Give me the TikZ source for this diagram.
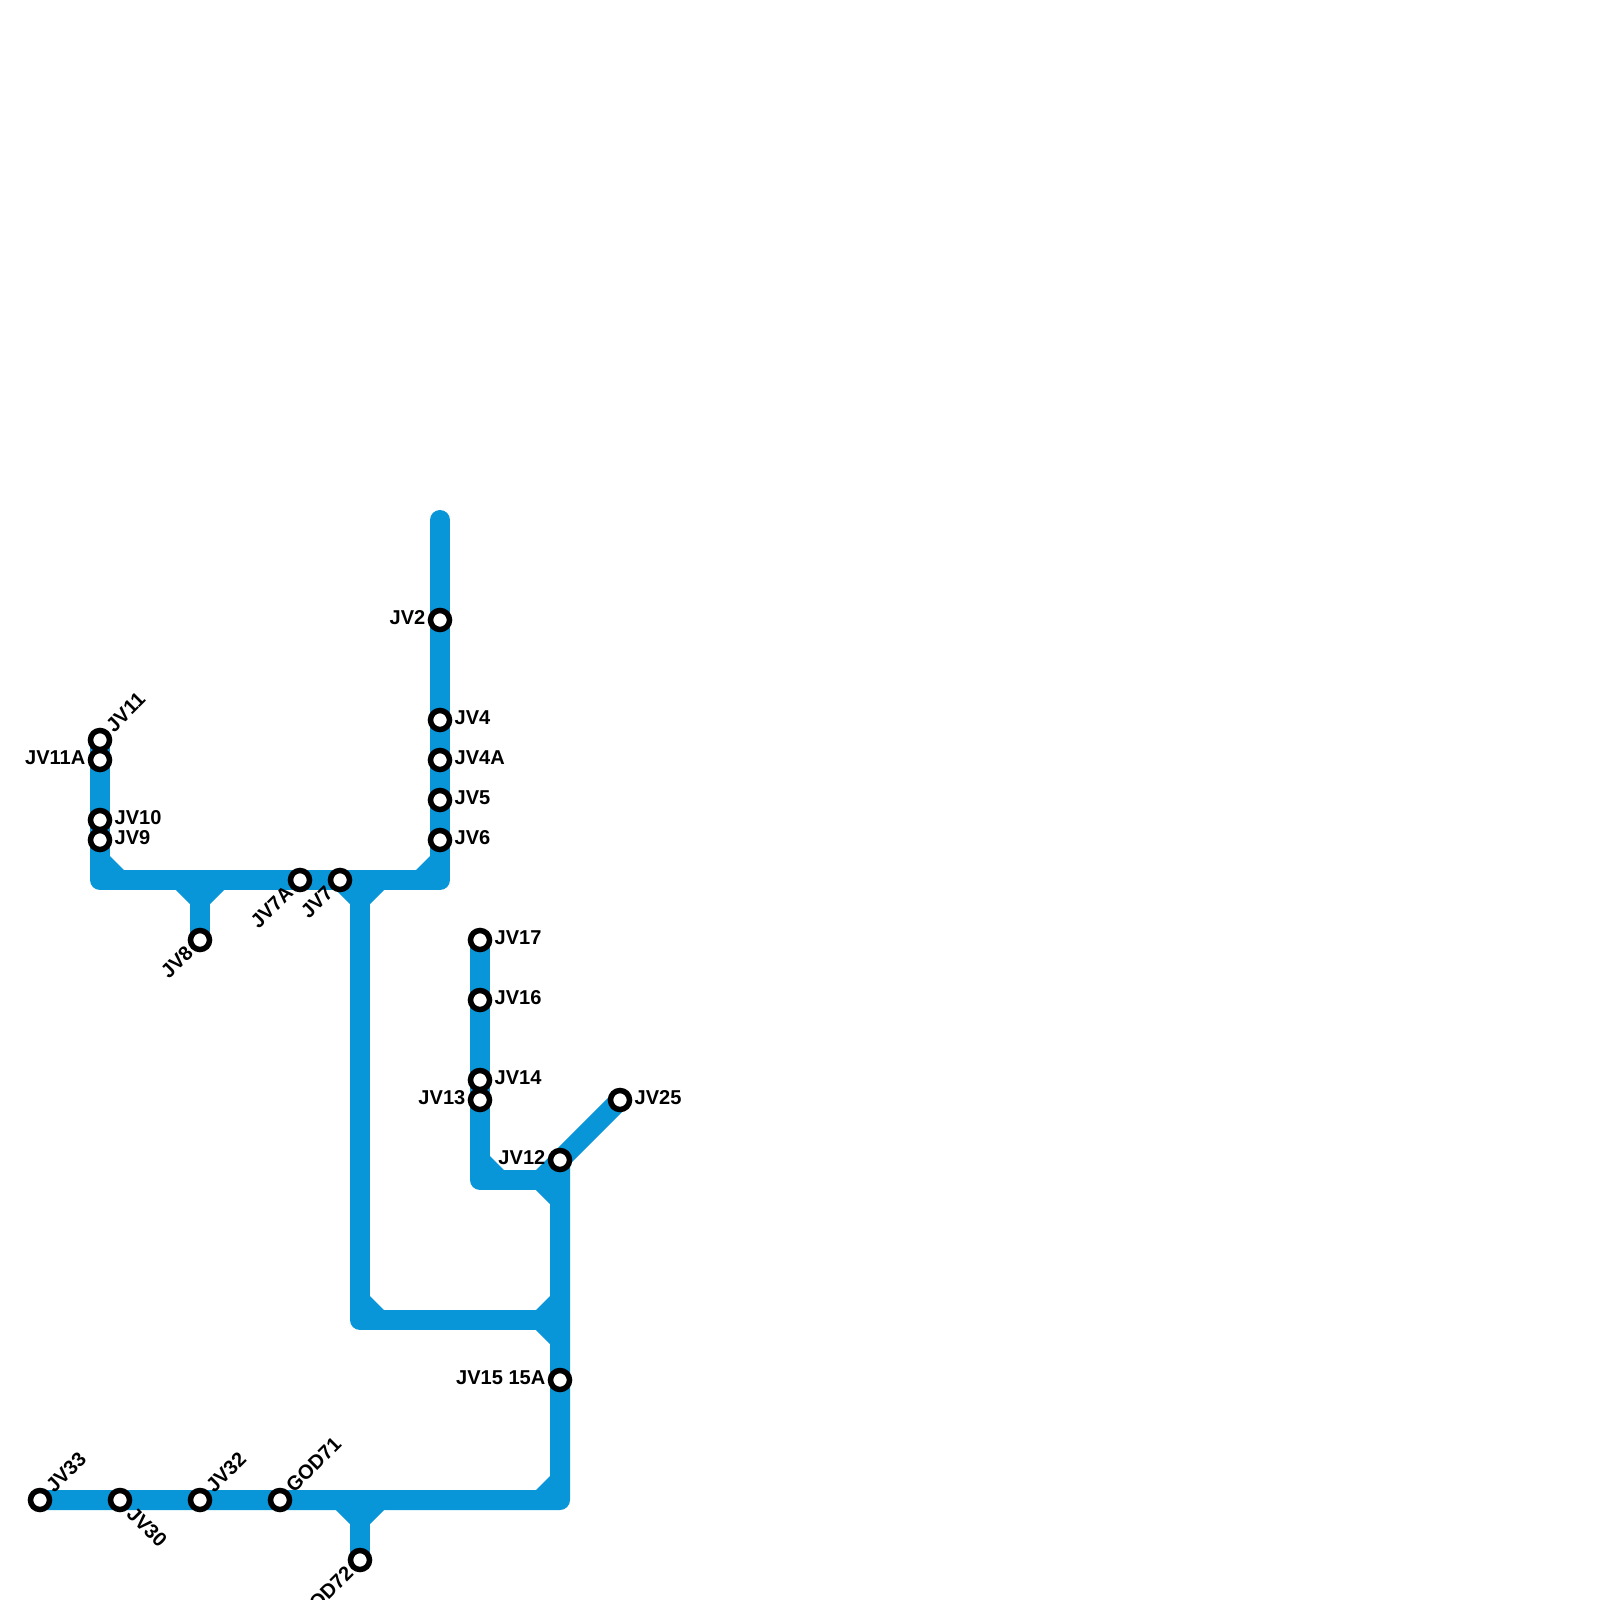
\documentclass[tikz,border=0pt]{standalone}
\usepackage{fontspec}
\setmainfont{Liberation Sans}
\definecolor{linecol}{HTML}{0896D9}
\tikzset{
    metro/.style={line width=0.2cm, draw=linecol, line cap=round, line join=round},
    station/.style={circle, draw=black, fill=white, line width=0.055cm, minimum size=0.19cm, inner sep=0pt},
    stationlbl/.style={font=\fontsize{5.7}{6}\selectfont\bfseries, inner sep=0pt, text=black},
    lblright/.style={stationlbl, anchor=west},
    lblleft/.style={stationlbl, anchor=east},
    lblne/.style={stationlbl, anchor=west, rotate=45},
    lblse/.style={stationlbl, anchor=west, rotate=-45},
    lblsw/.style={stationlbl, anchor=east, rotate=45},
}
% small triangle in the inner corner of a junction
\newcommand{\fillet}[4]{\fill[linecol] (#1,#2) -- ++(#3*14,0) -- ++(-#3*14,#4*14) -- cycle;}
\begin{document}
\begin{tikzpicture}[x=0.01cm,y=-0.01cm]
    \useasboundingbox (0,0) rectangle (1600,1600);

    % stops, no drawing yet
    \coordinate (top) at (440,520);
    \coordinate (cnrne) at (440,880);
    \coordinate (cnrnw) at (100,880);
    \coordinate (jctjv8) at (200,880);
    \coordinate (jctmid) at (360,880);
    \coordinate (cnrmid) at (360,1320);
    \coordinate (jctlow) at (560,1320);
    \coordinate (cnrjv13) at (480,1180);
    \coordinate (jctjv12) at (560,1180);
    \coordinate (cnrse) at (560,1500);
    \coordinate (jctgod) at (360,1500);

    % lines
    \draw[metro] (top) -- (cnrne) -- (cnrnw) -- (100,740);
    \draw[metro] (200,940) -- (jctjv8);
    \draw[metro] (jctmid) -- (cnrmid) -- (jctlow);
    \draw[metro] (480,940) -- (cnrjv13) -- (jctjv12);
    \draw[metro] (620,1100) -- (560,1160) -- (cnrse) -- (40,1500);
    \draw[metro] (360,1560) -- (jctgod);

    % corners
    \fillet{110}{870}{1}{-1}
    \fillet{430}{870}{-1}{-1}
    \fillet{190}{890}{-1}{1}
    \fillet{210}{890}{1}{1}
    \fillet{350}{890}{-1}{1}
    \fillet{370}{890}{1}{1}
    \fillet{370}{1310}{1}{-1}
    \fillet{550}{1310}{-1}{-1}
    \fillet{550}{1330}{-1}{1}
    \fillet{490}{1170}{1}{-1}
    \fillet{550}{1170}{-1}{-1}
    \fillet{550}{1190}{-1}{1}
    \fillet{550}{1490}{-1}{-1}
    \fillet{350}{1510}{-1}{1}
    \fillet{370}{1510}{1}{1}

    % stations
    \node[station] (jvtwo) at (440,620) {};
    \node[station] (jvfour) at (440,720) {};
    \node[station] (jvfoura) at (440,760) {};
    \node[station] (jvfive) at (440,800) {};
    \node[station] (jvsix) at (440,840) {};
    \node[station] (jvelevenb) at (100,740) {};
    \node[station] (jvelevena) at (100,760) {};
    \node[station] (jvten) at (100,820) {};
    \node[station] (jvnine) at (100,840) {};
    \node[station] (jveight) at (200,940) {};
    \node[station] (jvsevena) at (300,880) {};
    \node[station] (jvseven) at (340,880) {};
    \node[station] (jvseventeen) at (480,940) {};
    \node[station] (jvsixteen) at (480,1000) {};
    \node[station] (jvfourteen) at (480,1080) {};
    \node[station] (jvthirteen) at (480,1100) {};
    \node[station] (jvtwelve) at (560,1160) {};
    \node[station] (jvtwentyfive) at (620,1100) {};
    \node[station] (jvfifteen) at (560,1380) {};
    \node[station] (jvthirtythree) at (40,1500) {};
    \node[station] (jvthirty) at (120,1500) {};
    \node[station] (jvthirtytwo) at (200,1500) {};
    \node[station] (godone) at (280,1500) {};
    \node[station] (godtwo) at (360,1560) {};

    % labels
    \node[lblleft] (lbljvtwo) at (426,618) {JV2};
    \node[lblright] (lbljvfour) at (454,718) {JV4};
    \node[lblright] (lbljvfoura) at (454,758) {JV4A};
    \node[lblright] (lbljvfive) at (454,798) {JV5};
    \node[lblright] (lbljvsix) at (454,838) {JV6};
    \node[lblne] (lbljvelevenb) at (109,729) {JV11};
    \node[lblleft] (lbljvelevena) at (86,758) {JV11A};
    \node[lblright] (lbljvten) at (114,818) {JV10};
    \node[lblright] (lbljvnine) at (114,838) {JV9};
    \node[lblsw] (lbljveight) at (190,949) {JV8};
    \node[lblsw] (lbljvsevena) at (290,889) {JV7A};
    \node[lblsw] (lbljvseven) at (330,889) {JV7};
    \node[lblright] (lbljvseventeen) at (494,938) {JV17};
    \node[lblright] (lbljvsixteen) at (494,998) {JV16};
    \node[lblright] (lbljvfourteen) at (494,1078) {JV14};
    \node[lblleft] (lbljvthirteen) at (466,1098) {JV13};
    \node[lblleft] (lbljvtwelve) at (546,1158) {JV12};
    \node[lblright] (lbljvtwentyfive) at (634,1098) {JV25};
    \node[lblleft] (lbljvfifteen) at (546,1378) {JV15 15A};
    \node[lblne] (lbljvthirtythree) at (49,1489) {JV33};
    \node[lblse] (lbljvthirty) at (130,1510) {JV30};
    \node[lblne] (lbljvthirtytwo) at (209,1489) {JV32};
    \node[lblne] (lblgodone) at (289,1489) {GOD71};
    \node[lblsw] (lblgodtwo) at (350,1569) {GOD72};
\end{tikzpicture}
\end{document}
